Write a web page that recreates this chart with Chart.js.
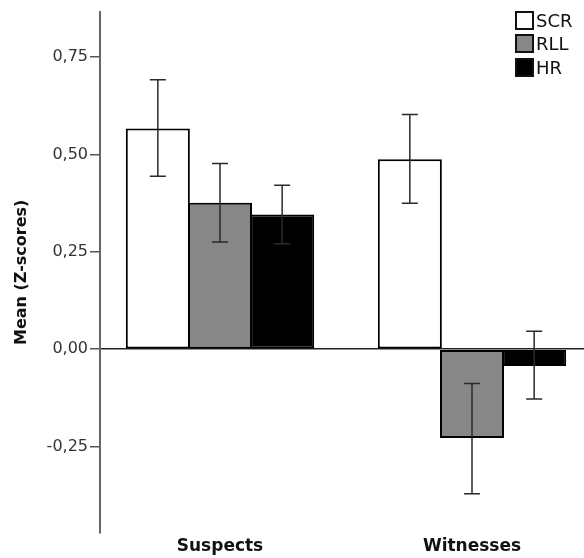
<!DOCTYPE html>
<html>
<head>
<meta charset="utf-8">
<script src="https://cdn.jsdelivr.net/npm/chart.js@4/dist/chart.umd.min.js"></script>
<style>
  html, body { margin: 0; padding: 0; background: #fff; overflow: hidden; }
  #wrap { position: relative; width: 584px; height: 558px; overflow: hidden; }
  #c { display: block; }
  #legend { position: absolute; left: 515px; top: 9px; font: 18px "DejaVu Sans", sans-serif; color: #111; }
  #legend .it { display: flex; align-items: center; height: 23.3px; }
  #legend .bx { width: 15px; height: 15px; border: 2px solid #111; margin-right: 2px; }
</style>
</head>
<body>
<div id="wrap">
  <canvas id="c" width="624" height="558"></canvas>
  <div id="legend"></div>
</div>
<script>
// Values (means and error-bar ends per group)
const GROUPS = ['Suspects', 'Witnesses'];
const SERIES = ['SCR', 'RLL', 'HR'];
const FILLS = ['#ffffff', '#878787', '#000000'];
const SCR = [0.567, 0.488];
const RLL = [0.376, -0.228];
const HR = [0.346, -0.043];
const SCR_LO = [0.444, 0.375], SCR_HI = [0.692, 0.603];
const RLL_LO = [0.275, -0.371], RLL_HI = [0.477, -0.088];
const HR_LO = [0.271, -0.128], HR_HI = [0.421, 0.046];
const Y_TICKS = [-0.25, 0, 0.25, 0.5, 0.75];
const Y_MIN = -0.472, Y_MAX = 0.867;

const VALUES = [SCR, RLL, HR];
const LOWS = [SCR_LO, RLL_LO, HR_LO];
const HIGHS = [SCR_HI, RLL_HI, HR_HI];

const FONT = '"DejaVu Sans", sans-serif';

// Error bars: vertical whisker + caps, placed on the bar elements' x and the y scale.
const errorBars = {
  id: 'errorBars',
  afterDatasetsDraw(chart) {
    const g = chart.ctx, y = chart.scales.y;
    g.save();
    g.strokeStyle = '#2a2a2a';
    g.lineWidth = 1.5;
    chart.data.datasets.forEach(function (ds, di) {
      const meta = chart.getDatasetMeta(di);
      meta.data.forEach(function (bar, i) {
        const x = bar.x, y0 = y.getPixelForValue(ds.lo[i]), y1 = y.getPixelForValue(ds.hi[i]), w = 8;
        g.beginPath();
        g.moveTo(x, y0); g.lineTo(x, y1);
        g.moveTo(x - w, y0); g.lineTo(x + w, y0);
        g.moveTo(x - w, y1); g.lineTo(x + w, y1);
        g.stroke();
      });
    });
    g.restore();
  }
};

// SPSS puts the first category band a few px left of the y axis line:
// shift the category scale's pixel range after layout.
const shiftX = {
  id: 'shiftX',
  afterLayout(chart) {
    const s = chart.scales.x;
    s._startPixel -= 6; s._endPixel -= 6;
  }
};

const datasets = SERIES.map(function (name, k) {
  return { label: name, data: VALUES[k], lo: LOWS[k], hi: HIGHS[k],
    backgroundColor: FILLS[k], borderColor: '#000', borderWidth: 2, borderSkipped: false,
    categoryPercentage: 0.74, barPercentage: 1.03 };
});

new Chart(document.getElementById('c'), {
  type: 'bar',
  data: { labels: GROUPS, datasets: datasets },
  plugins: [shiftX, errorBars],
  options: {
    responsive: false, animation: false,
    layout: { padding: { top: 8, right: 20, left: 0, bottom: 0 } },
    plugins: { legend: { display: false }, tooltip: { enabled: false } },
    scales: {
      x: {
        grid: { display: false, drawTicks: false }, border: { display: false },
        ticks: { color: '#111', padding: 3, font: { family: FONT, size: 17, weight: 'bold' } },
        afterFit: function (s) { s.height = 25; },
      },
      y: {
        min: Y_MIN, max: Y_MAX,
        afterBuildTicks: function (s) { s.ticks = Y_TICKS.map(function (v) { return { value: v }; }); },
        grid: {
          color: function (c) { return c.tick && c.tick.value === 0 ? '#222' : 'rgba(0,0,0,0)'; },
          tickColor: '#555', tickLength: 10, lineWidth: 1.5,
        },
        border: { color: '#666', width: 2 },
        ticks: { color: '#333', padding: 2, font: { family: FONT, size: 16 },
          callback: function (v) { return v.toFixed(2).replace('.', ','); } },
        title: { display: true, text: 'Mean (Z-scores)', color: '#111', padding: { top: 12, bottom: 0 },
          font: { family: FONT, size: 16, weight: 'bold' } },
        afterFit: function (s) { s.width = 100; },
      },
    },
  },
});

// Legend as HTML in the top-right corner
const lg = document.getElementById('legend');
SERIES.forEach(function (name, k) {
  const it = document.createElement('div'); it.className = 'it';
  const bx = document.createElement('span'); bx.className = 'bx'; bx.style.background = FILLS[k];
  it.appendChild(bx); it.appendChild(document.createTextNode(name));
  lg.appendChild(it);
});
</script>
</body>
</html>
